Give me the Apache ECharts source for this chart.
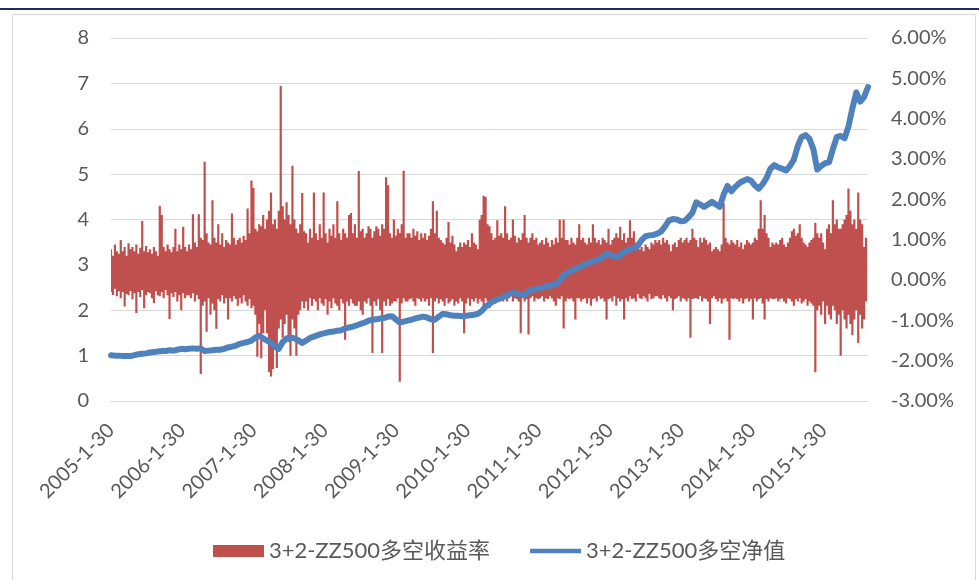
<!DOCTYPE html>
<html><head><meta charset="utf-8">
<script src="https://cdn.jsdelivr.net/npm/echarts@6/dist/echarts.min.js"></script>
<style>html,body{margin:0;padding:0;background:#fff}#c{width:979px;height:580px}</style>
</head><body><div id="c"></div>
<script>
// x positions are calendar days after 2005-1-30
const xLabels = ['2005-1-30','2006-1-30','2007-1-30','2008-1-30','2009-1-30','2010-1-30','2011-1-30','2012-1-30','2013-1-30','2014-1-30','2015-1-30'];
const daysPerYear = 365.25;
const lastDay = 3880;
const barStepDays = 10;   // one pair of bars (window high / window low) every 10 days
const navStepDays = 20;   // one NAV reading every 20 days
const leftTicks = {min:0, max:8, step:1};
const rightTicks = {min:-3, max:6, step:1};
const nameRet = '3+2-ZZ500多空收益率';
const nameNav = '3+2-ZZ500多空净值';

// daily long-short return, % (window highs)
const retHigh = [
0.76,0.60,0.88,0.71,0.65,0.99,0.71,0.82,0.60,0.91,0.76,0.82,0.71,0.88,0.65,0.80,1.46,0.71,0.84,0.69,
0.76,0.65,0.82,0.71,0.60,1.84,1.61,0.82,0.71,0.88,0.76,0.69,0.82,1.27,0.71,0.88,0.76,1.32,0.82,0.71,
0.88,0.76,1.63,0.93,0.82,1.63,1.05,0.99,2.93,1.16,0.93,0.88,1.98,1.05,0.93,1.38,0.88,1.16,0.82,0.99,
0.93,0.88,1.65,1.05,0.88,0.99,1.05,0.93,1.10,0.99,1.77,1.16,2.47,2.28,1.27,1.21,1.38,1.33,1.61,1.27,
1.50,1.72,2.17,1.38,1.50,1.27,1.72,4.81,1.83,1.50,1.93,1.61,1.38,2.83,1.50,1.27,1.16,1.38,2.16,1.21,
1.16,0.93,1.27,1.05,2.17,1.16,0.99,1.38,1.05,2.17,1.16,0.93,1.27,1.10,1.38,1.05,1.95,1.16,0.99,1.27,
1.16,1.05,1.61,1.66,1.16,1.38,1.05,2.70,1.21,1.27,1.05,1.16,1.33,1.27,1.05,1.21,1.33,1.27,1.10,1.38,
1.27,2.55,2.35,1.16,1.05,1.50,1.10,1.27,1.16,1.38,2.71,1.05,1.16,1.16,1.05,1.27,1.10,1.21,0.99,1.16,
1.05,1.16,0.99,1.10,1.27,1.95,1.16,1.72,1.05,0.99,0.93,0.88,1.05,1.44,0.93,1.10,0.88,0.71,0.82,0.93,
0.82,0.93,0.88,0.99,0.82,1.16,0.93,0.88,0.76,1.50,1.61,2.09,2.06,1.38,1.33,1.16,0.99,1.05,1.48,1.10,
1.16,1.05,1.83,1.16,0.99,1.05,1.50,1.10,0.93,1.05,0.99,1.16,1.61,1.05,0.93,1.05,1.16,0.99,1.05,0.88,
0.93,0.99,0.88,1.05,0.93,0.82,0.99,0.88,1.05,0.93,1.50,1.05,1.50,0.99,0.99,0.88,1.05,0.93,0.88,1.05,
1.38,0.99,1.05,0.93,0.88,1.05,0.93,1.38,1.05,0.93,0.99,0.88,1.05,0.99,0.93,1.27,0.88,0.99,1.05,1.16,
1.05,1.32,0.99,1.16,0.93,1.05,1.48,1.05,1.21,0.93,0.88,0.76,0.82,0.71,0.88,0.82,0.76,0.93,0.88,0.99,
0.93,0.99,0.88,1.05,0.93,0.99,0.88,0.71,0.88,0.93,0.82,0.99,1.05,0.93,0.99,1.05,0.93,0.99,1.27,1.05,
0.99,0.82,1.05,0.93,1.05,0.99,0.88,0.93,0.71,0.76,0.82,0.76,0.71,0.88,1.90,1.05,0.93,0.88,0.99,0.93,
0.88,0.99,0.82,0.93,0.76,0.88,0.99,0.93,0.88,0.93,1.05,0.99,1.27,1.98,1.27,1.61,1.16,1.05,0.82,0.93,
0.88,0.93,0.88,0.99,1.05,0.88,0.82,0.93,1.05,1.21,1.27,1.10,1.16,1.38,1.05,0.93,0.88,0.82,0.93,0.99,
1.05,1.42,1.16,1.05,1.16,0.93,0.76,1.27,1.38,1.16,1.98,1.38,1.50,1.27,1.27,1.38,1.50,1.61,2.27,1.72,1.38,1.50,1.27,2.17,1.50,1.38,0.82,1.05
];
// daily long-short return, % (window lows)
const retLow = [
-0.30,-0.37,-0.22,-0.40,-0.28,-0.45,-0.30,-0.66,-0.35,-0.38,-0.27,-0.48,-0.33,-0.82,-0.30,-0.42,-0.25,-0.70,-0.38,-0.30,
-0.33,-0.45,-0.57,-0.28,-0.38,-0.40,-0.30,-0.45,-0.25,-0.38,-0.97,-0.33,-0.42,-0.30,-0.53,-0.38,-0.75,-0.33,-0.45,-0.38,
-0.38,-0.45,-0.33,-0.53,-0.38,-0.47,-2.33,-0.64,-0.53,-1.28,-0.45,-0.86,-0.58,-0.75,-1.21,-0.47,-0.53,-0.38,-0.58,-0.45,
-0.98,-0.45,-0.53,-0.40,-0.47,-0.64,-0.45,-0.58,-0.38,-0.53,-0.64,-0.47,-0.70,-0.64,-0.86,-1.90,-1.09,-1.94,-1.32,-0.75,
-1.32,-2.28,-2.39,-2.21,-1.65,-2.18,-1.20,-0.98,-1.43,-1.09,-0.86,-1.54,-1.88,-0.98,-1.20,-1.88,-0.86,-0.75,-0.53,-0.70,
-0.53,-0.75,-0.45,-0.64,-0.47,-0.53,-0.75,-0.45,-0.58,-0.64,-0.47,-0.86,-0.53,-0.70,-0.45,-0.58,-0.64,-0.75,-0.47,-0.58,
-1.48,-0.53,-0.64,-0.47,-0.58,-0.64,-0.64,-0.53,-0.75,-0.86,-0.53,-0.58,-0.45,-0.64,-1.81,-0.53,-0.64,-0.47,-0.75,-1.81,
-0.53,-0.64,-0.47,-0.64,-0.58,-0.53,-0.53,-0.45,-2.52,-0.58,-0.45,-0.53,-0.53,-0.47,-0.45,-0.53,-0.64,-0.45,-0.47,-0.53,
-0.45,-0.53,-0.47,-0.64,-0.45,-1.81,-0.53,-0.45,-0.58,-0.47,-0.53,-0.64,-0.45,-0.58,-0.53,-0.47,-0.64,-0.53,-0.58,-0.45,
-0.53,-1.32,-0.58,-0.45,-0.64,-0.47,-0.53,-0.45,-0.58,-0.47,-0.53,-0.64,-0.45,-0.53,-0.70,-0.53,-0.47,-0.58,-0.45,-0.53,
-0.45,-0.53,-0.47,-0.53,-0.45,-0.40,-0.53,-0.45,-0.47,-0.53,-1.32,-0.45,-0.53,-0.47,-1.35,-0.45,-0.40,-0.53,-0.45,-0.47,
-0.45,-0.40,-0.53,-0.45,-0.47,-0.40,-0.45,-0.53,-0.64,-0.45,-0.47,-0.40,-1.20,-0.53,-0.45,-0.47,-0.45,-0.53,-0.98,-0.45,
-0.45,-0.53,-0.47,-0.45,-0.58,-0.45,-0.64,-0.47,-0.45,-0.53,-0.40,-0.47,-0.45,-0.53,-0.98,-0.47,-0.45,-0.53,-0.40,-0.64,
-0.45,-0.53,-0.47,-0.98,-0.45,-0.53,-0.40,-0.47,-0.45,-0.53,-0.35,-0.45,-0.47,-0.40,-0.45,-0.53,-0.35,-0.47,-0.45,-0.40,
-0.40,-0.45,-0.47,-0.38,-0.45,-0.53,-0.40,-0.45,-0.75,-0.47,-0.45,-0.40,-0.53,-0.45,-0.47,-0.53,-0.45,-1.43,-0.47,-0.45,
-0.45,-0.47,-0.40,-0.53,-0.45,-0.47,-0.53,-1.09,-0.45,-0.40,-0.47,-0.53,-0.45,-0.58,-0.47,-0.45,-0.53,-1.48,-0.45,-0.47,
-0.45,-0.47,-0.53,-0.45,-0.58,-0.47,-0.45,-0.53,-0.47,-0.98,-0.45,-0.53,-0.47,-0.45,-0.58,-0.98,-0.47,-0.53,-0.45,-0.47,
-0.47,-0.45,-0.53,-0.47,-0.45,-0.53,-0.58,-0.45,-0.47,-0.53,-0.64,-0.47,-0.53,-0.45,-0.58,-0.53,-0.47,-0.64,-0.53,-0.58,
-0.64,-2.29,-0.75,-0.64,-0.86,-0.53,-1.09,-0.64,-0.86,-0.98,-0.64,-0.75,-1.09,-0.86,-1.88,-0.75,-0.98,-1.20,-0.86,-1.09,-1.37,-0.98,-0.75,-1.56,-0.86,-1.20,-0.98,-0.53
];
// long-short net value
const navValues = [
1.01,1.00,1.00,0.99,0.99,0.99,1.01,1.03,1.04,1.05,
1.07,1.08,1.09,1.10,1.10,1.12,1.11,1.13,1.15,1.14,
1.15,1.16,1.15,1.16,1.10,1.11,1.12,1.13,1.13,1.15,
1.18,1.20,1.22,1.26,1.28,1.30,1.33,1.40,1.44,1.38,
1.33,1.28,1.20,1.15,1.30,1.38,1.40,1.38,1.34,1.28,
1.33,1.39,1.42,1.45,1.48,1.50,1.52,1.53,1.55,1.56,
1.60,1.62,1.64,1.67,1.70,1.73,1.77,1.79,1.80,1.82,
1.83,1.86,1.87,1.80,1.73,1.75,1.77,1.79,1.82,1.84,
1.86,1.84,1.80,1.79,1.86,1.92,1.91,1.89,1.88,1.88,
1.87,1.88,1.89,1.90,1.92,1.98,2.08,2.14,2.20,2.24,
2.27,2.31,2.36,2.38,2.37,2.35,2.33,2.42,2.45,2.47,
2.49,2.51,2.53,2.55,2.58,2.65,2.78,2.82,2.87,2.91,
2.95,2.99,3.03,3.06,3.09,3.12,3.18,3.25,3.22,3.18,
3.17,3.26,3.31,3.34,3.37,3.42,3.55,3.63,3.65,3.66,
3.69,3.74,3.85,3.98,4.01,4.00,3.96,3.97,4.05,4.15,
4.38,4.33,4.28,4.33,4.39,4.33,4.28,4.55,4.74,4.62,
4.72,4.80,4.85,4.89,4.86,4.75,4.68,4.78,4.92,5.12,
5.20,5.15,5.12,5.08,5.18,5.32,5.62,5.82,5.86,5.78,
5.55,5.10,5.18,5.24,5.26,5.55,5.82,5.84,5.79,6.05,
6.45,6.80,6.60,6.70,6.92
];

const txt = '#595959';
const font = 'Lato, "Noto Sans CJK SC", sans-serif';
const highData = retHigh.map((v, i) => [i * barStepDays, v]);
const lowData = retLow.map((v, i) => [i * barStepDays, v]);
const navData = navValues.map((v, i) => [i * navStepDays, v]);

const chart = echarts.init(document.getElementById('c'), null, {renderer: 'canvas'});
chart.setOption({
  animation: false,
  backgroundColor: '#fff',
  textStyle: {fontFamily: font},
  graphic: [
    {type: 'line', shape: {x1: 0, y1: 9, x2: 979, y2: 9}, style: {stroke: '#1F2D5C', lineWidth: 2}, silent: true},
    {type: 'rect', shape: {x: 12.5, y: 14.5, width: 963, height: 600}, style: {fill: 'none', stroke: '#D9D9D9', lineWidth: 1}, silent: true}
  ],
  grid: {left: 111, right: 111, top: 38, height: 363, containLabel: false},
  legend: {
    left: 208, top: 535, itemWidth: 51, itemHeight: 12, itemGap: 40,
    textStyle: {color: txt, fontSize: 22, fontFamily: font},
    data: [
      {name: nameRet, icon: 'rect', itemStyle: {color: '#C0504D'}},
      {name: nameNav, icon: 'path://M0 0H55V5H0Z', itemStyle: {color: '#4F81BD'}}
    ]
  },
  xAxis: {
    type: 'value', min: 0, max: lastDay, interval: daysPerYear,
    axisLine: {show: true, lineStyle: {color: '#D9D9D9'}},
    axisTick: {show: false},
    splitLine: {show: false},
    axisLabel: {
      rotate: 45, margin: 26, color: txt, fontSize: 20, fontFamily: font,
      showMaxLabel: false,
      formatter: function (v) {
        const n = v / daysPerYear, r = Math.round(n);
        if (Math.abs(n - r) > 0.01) return '';
        return xLabels[r] || '';
      }
    }
  },
  yAxis: [
    {
      type: 'value', min: leftTicks.min, max: leftTicks.max, interval: leftTicks.step,
      axisLine: {show: false}, axisTick: {show: false},
      splitLine: {show: true, lineStyle: {color: '#D9D9D9', width: 1}},
      axisLabel: {color: txt, fontSize: 20, margin: 22, fontFamily: font}
    },
    {
      type: 'value', min: rightTicks.min, max: rightTicks.max, interval: rightTicks.step,
      axisLine: {show: false}, axisTick: {show: false},
      splitLine: {show: false},
      axisLabel: {color: txt, fontSize: 20, margin: 23, fontFamily: font,
        formatter: v => v.toFixed(2) + '%'}
    }
  ],
  series: [
    {name: nameRet, type: 'bar', yAxisIndex: 1, data: highData, barWidth: 2.2, barGap: '-100%',
     large: true, largeThreshold: 10, itemStyle: {color: '#C0504D'}},
    {name: nameRet, type: 'bar', yAxisIndex: 1, data: lowData, barWidth: 2.2, barGap: '-100%',
     large: true, largeThreshold: 10, itemStyle: {color: '#C0504D'}},
    {name: nameNav, type: 'line', yAxisIndex: 0, data: navData, symbol: 'none', showSymbol: false,
     lineStyle: {color: '#4F81BD', width: 6, join: 'round', cap: 'round'}, itemStyle: {color: '#4F81BD'}, z: 3}
  ]
});
</script></body></html>
